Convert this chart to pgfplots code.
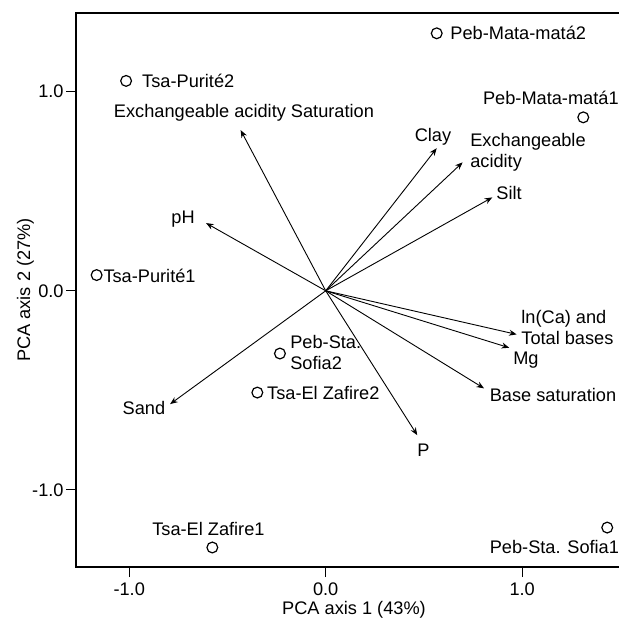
\documentclass[border=0pt]{standalone}
\usepackage{pgfplots}
\pgfplotsset{compat=1.18}
\usepackage{fontspec}
\setmainfont{Liberation Sans}
\usetikzlibrary{arrows.meta,calc}
\begin{document}
\begin{tikzpicture}[font=\fontsize{9.1bp}{10.6bp}\selectfont]
\begin{axis}[name=ax,
  scale only axis, width=278bp, height=277bp,
  xmin=-1.271, xmax=1.559, ymin=-1.387, ymax=1.395,
  axis line style={line width=0.6bp},
  xtick={-1,0,1}, ytick={-1,0,1},
  tick align=outside, major tick length=5bp,
  tick style={line width=0.5bp,black},
  xtick pos=bottom, ytick pos=left,
  /pgf/number format/assume math mode=true,
  /pgf/number format/.cd, fixed, fixed zerofill, precision=1, /pgfplots/.cd,
  yticklabel style={inner sep=1bp},
  xticklabel style={inner sep=1bp, yshift=-1.5bp},
  xlabel={PCA axis 1 (43\%)}, ylabel={PCA axis 2 (27\%)},
  xlabel style={inner sep=0pt, yshift=-2bp},
  ylabel style={inner sep=0pt, yshift=-2bp},
  clip=false,
]
% sample scores
\addplot[only marks, mark=o, mark size=2.7bp, mark options={line width=0.6bp}] coordinates {
  (-1.016,1.054) (0.565,1.293) (1.311,0.871) (-1.166,0.079)
  (-0.233,-0.315) (-0.348,-0.511) (-0.577,-1.289) (1.433,-1.189)
};
% variable loadings
\pgfplotsset{arr/.style={line width=0.45bp, -{Stealth[length=3.8bp,width=3bp]}}}
\addplot[arr] coordinates {(0,0) (-0.433,0.807)};
\addplot[arr] coordinates {(0,0) (-0.609,0.340)};
\addplot[arr] coordinates {(0,0) (-0.792,-0.569)};
\addplot[arr] coordinates {(0,0) (0.565,0.716)};
\addplot[arr] coordinates {(0,0) (0.697,0.645)};
\addplot[arr] coordinates {(0,0) (0.848,0.469)};
\addplot[arr] coordinates {(0,0) (0.972,-0.219)};
\addplot[arr] coordinates {(0,0) (0.934,-0.286)};
\addplot[arr] coordinates {(0,0) (0.806,-0.490)};
\addplot[arr] coordinates {(0,0) (0.466,-0.725)};
% sample labels
\node[anchor=west, inner sep=0pt] at (axis cs:-0.936,1.054) {Tsa-Purité2};
\node[anchor=west, inner sep=0pt] at (axis cs:0.633,1.293) {Peb-Mata-matá2};
\node[inner sep=0pt] at (axis cs:1.146,0.968) {Peb-Mata-matá1};
\node[anchor=west, inner sep=0pt] at (axis cs:-1.133,0.074) {Tsa-Purité1};
\node[anchor=west, inner sep=0pt, align=left] at (axis cs:-0.182,-0.311) {Peb-Sta.\\Sofia2};
\node[anchor=west, inner sep=0pt] at (axis cs:-0.300,-0.511) {Tsa-El Zafire2};
\node[inner sep=0pt] at (axis cs:-0.597,-1.194) {Tsa-El Zafire1};
\node[inner sep=0pt] at (axis cs:1.164,-1.286) {Peb-Sta. Sofia1};
% variable labels
\node[inner sep=0pt] at (axis cs:-0.416,0.893) {Exchangeable acidity Saturation};
\node[inner sep=0pt] at (axis cs:-0.726,0.360) {pH};
\node[inner sep=0pt] at (axis cs:-0.925,-0.591) {Sand};
\node[inner sep=0pt] at (axis cs:0.546,0.774) {Clay};
\node[anchor=west, inner sep=0pt, align=left] at (axis cs:0.734,0.696) {Exchangeable\\acidity};
\node[anchor=west, inner sep=0pt] at (axis cs:0.867,0.489) {Silt};
\node[anchor=west, inner sep=0pt, align=left] at (axis cs:0.994,-0.185) {ln(Ca) and\\Total bases};
\node[inner sep=0pt] at (axis cs:1.019,-0.348) {Mg};
\node[anchor=west, inner sep=0pt] at (axis cs:0.833,-0.521) {Base saturation};
\node[inner sep=0pt] at (axis cs:0.497,-0.801) {P};
\end{axis}
\draw[line width=0.7bp, black] (ax.north west) -- (ax.north east);
\pgfresetboundingbox
\path[use as bounding box] ($(ax.south west)+(-38bp,-28.5bp)$) rectangle ($(ax.south west)+(271.5bp,283.5bp)$);
\end{tikzpicture}
\end{document}
